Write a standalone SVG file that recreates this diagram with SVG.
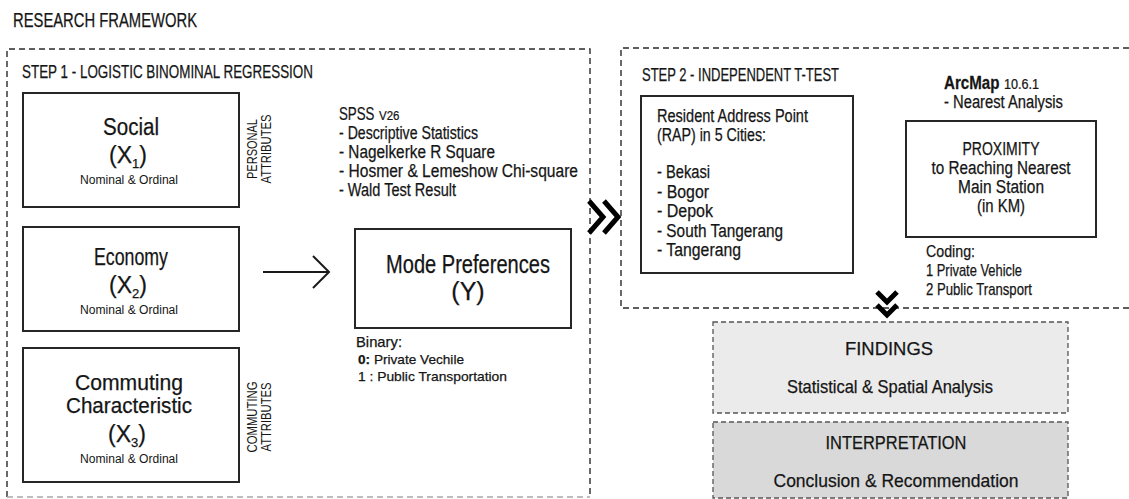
<svg xmlns="http://www.w3.org/2000/svg" width="1129" height="499" viewBox="0 0 1129 499">
  <style>
    text { font-family: "Liberation Sans", Arial, sans-serif; fill: #151515; stroke: #151515; stroke-width: 0.25; }
    .box { fill: #ffffff; stroke: #262626; stroke-width: 2; }
    .frame { fill: none; stroke: #2a2a2a; stroke-width: 1.4; stroke-dasharray: 6 4; }
    .frame-light { fill: none; stroke: #a8a8a8; stroke-width: 1.4; stroke-dasharray: 6 4; }
    .result { stroke: #555555; stroke-width: 1.3; stroke-dasharray: 5 3; }
    .chev { fill: none; stroke: #000000; stroke-width: 5; stroke-linejoin: miter; }
    .big { font-size: 23px; }
    .note { font-size: 12.5px; stroke-width: 0; }
    .side { font-size: 15px; stroke-width: 0; }
    .list { font-size: 18px; }
  </style>

  <!-- page title -->
  <text x="13" y="27" font-size="20" textLength="184" lengthAdjust="spacingAndGlyphs">RESEARCH FRAMEWORK</text>

  <!-- step frames -->
  <g id="step1-frame">
    <path class="frame" d="M7,497 L7,49 L590,49 L590,497"/>
    <path class="frame-light" d="M7,497 L590,497"/>
    <text x="22" y="78" font-size="18" textLength="291" lengthAdjust="spacingAndGlyphs">STEP 1 - LOGISTIC BINOMINAL REGRESSION</text>
  </g>
  <g id="step2-frame">
    <path class="frame" d="M1129,48 L621,48 L621,308 L1129,308"/>
    <text x="642" y="81" font-size="18" textLength="197" lengthAdjust="spacingAndGlyphs">STEP 2 - INDEPENDENT T-TEST</text>
  </g>

  <!-- independent variables -->
  <g id="node-social">
    <rect class="box" x="23" y="93" width="216" height="114"/>
    <text x="131" y="135" class="big" text-anchor="middle" textLength="56" lengthAdjust="spacingAndGlyphs">Social</text>
    <text x="128" y="163" class="big" text-anchor="middle">(X<tspan font-size="13" dy="5">1</tspan><tspan dy="-5">)</tspan></text>
    <text x="129" y="184" class="note" text-anchor="middle" textLength="98" lengthAdjust="spacingAndGlyphs">Nominal &amp; Ordinal</text>
  </g>
  <g id="label-personal">
    <text transform="translate(257,149) rotate(-90)" class="side" text-anchor="middle" textLength="60" lengthAdjust="spacingAndGlyphs">PERSONAL</text>
    <text transform="translate(271,149) rotate(-90)" class="side" text-anchor="middle" textLength="69" lengthAdjust="spacingAndGlyphs">ATTRIBUTES</text>
  </g>

  <g id="node-economy">
    <rect class="box" x="23" y="227" width="216" height="104"/>
    <text x="131" y="265" class="big" text-anchor="middle" textLength="74" lengthAdjust="spacingAndGlyphs">Economy</text>
    <text x="128" y="293" class="big" text-anchor="middle">(X<tspan font-size="13" dy="5">2</tspan><tspan dy="-5">)</tspan></text>
    <text x="129" y="314" class="note" text-anchor="middle" textLength="98" lengthAdjust="spacingAndGlyphs">Nominal &amp; Ordinal</text>
  </g>

  <g id="node-commuting">
    <rect class="box" x="23" y="348" width="216" height="134"/>
    <text x="129" y="390" font-size="21.5" text-anchor="middle" textLength="108" lengthAdjust="spacingAndGlyphs">Commuting</text>
    <text x="129" y="413" font-size="21.5" text-anchor="middle" textLength="126" lengthAdjust="spacingAndGlyphs">Characteristic</text>
    <text x="127" y="442" class="big" text-anchor="middle">(X<tspan font-size="13" dy="5">3</tspan><tspan dy="-5">)</tspan></text>
    <text x="129" y="463" class="note" text-anchor="middle" textLength="98" lengthAdjust="spacingAndGlyphs">Nominal &amp; Ordinal</text>
  </g>
  <g id="label-commuting">
    <text transform="translate(257,417) rotate(-90)" class="side" text-anchor="middle" textLength="71" lengthAdjust="spacingAndGlyphs">COMMUTING</text>
    <text transform="translate(271,417) rotate(-90)" class="side" text-anchor="middle" textLength="69" lengthAdjust="spacingAndGlyphs">ATTRIBUTES</text>
  </g>

  <!-- software notes, step 1 -->
  <g id="note-spss">
    <text transform="translate(339,120) scale(0.7,1)" font-size="19">SPSS</text>
    <text transform="translate(379,120) scale(0.85,1)" font-size="13.5">V26</text>
    <text x="339" y="139" class="list" textLength="139" lengthAdjust="spacingAndGlyphs">- Descriptive Statistics</text>
    <text x="339" y="158" class="list" textLength="156" lengthAdjust="spacingAndGlyphs">- Nagelkerke R Square</text>
    <text x="339" y="177" class="list" textLength="239" lengthAdjust="spacingAndGlyphs">- Hosmer &amp; Lemeshow Chi-square</text>
    <text x="339" y="196" class="list" textLength="117" lengthAdjust="spacingAndGlyphs">- Wald Test Result</text>
  </g>

  <!-- dependent variable -->
  <g id="node-mode">
    <rect class="box" x="355" y="229" width="216" height="99"/>
    <text x="468" y="273" font-size="25" text-anchor="middle" textLength="164" lengthAdjust="spacingAndGlyphs">Mode Preferences</text>
    <text x="468" y="300" font-size="25" text-anchor="middle">(Y)</text>
    <text x="356" y="347" font-size="15" textLength="46" lengthAdjust="spacingAndGlyphs">Binary:</text>
    <text x="358" y="364" font-size="13.5" stroke-width="0" textLength="106" lengthAdjust="spacingAndGlyphs"><tspan font-weight="bold">0:</tspan> Private Vechile</text>
    <text x="358" y="381" font-size="13.5" stroke-width="0" textLength="149" lengthAdjust="spacingAndGlyphs">1 : Public Transportation</text>
  </g>

  <!-- step 2 content -->
  <g id="node-rap">
    <rect class="box" x="641" y="96" width="212" height="177"/>
    <text x="657" y="122" class="list" textLength="151" lengthAdjust="spacingAndGlyphs">Resident Address Point</text>
    <text x="657" y="141" class="list" textLength="109" lengthAdjust="spacingAndGlyphs">(RAP) in 5 Cities:</text>
    <text x="657" y="178" class="list" textLength="53" lengthAdjust="spacingAndGlyphs">- Bekasi</text>
    <text x="657" y="198" class="list" textLength="52" lengthAdjust="spacingAndGlyphs">- Bogor</text>
    <text x="657" y="217" class="list" textLength="56" lengthAdjust="spacingAndGlyphs">- Depok</text>
    <text x="657" y="237" class="list" textLength="126" lengthAdjust="spacingAndGlyphs">- South Tangerang</text>
    <text x="657" y="256" class="list" textLength="84" lengthAdjust="spacingAndGlyphs">- Tangerang</text>
  </g>

  <g id="note-arcmap">
    <text transform="translate(944,89) scale(0.84,1)" font-size="18" font-weight="bold">ArcMap</text>
    <text transform="translate(1004,89) scale(0.9,1)" font-size="14">10.6.1</text>
    <text x="944" y="108" class="list" textLength="119" lengthAdjust="spacingAndGlyphs">- Nearest Analysis</text>
  </g>

  <g id="node-proximity">
    <rect class="box" x="906" y="121" width="190" height="116"/>
    <text x="1001" y="155" class="list" text-anchor="middle" textLength="77" lengthAdjust="spacingAndGlyphs">PROXIMITY</text>
    <text x="1001" y="174" class="list" text-anchor="middle" textLength="139" lengthAdjust="spacingAndGlyphs">to Reaching Nearest</text>
    <text x="1001" y="193" class="list" text-anchor="middle" textLength="86" lengthAdjust="spacingAndGlyphs">Main Station</text>
    <text x="1001" y="212" class="list" text-anchor="middle" textLength="48" lengthAdjust="spacingAndGlyphs">(in KM)</text>
    <text x="926" y="257" font-size="17" textLength="49" lengthAdjust="spacingAndGlyphs">Coding:</text>
    <text x="926" y="276" font-size="17" textLength="96" lengthAdjust="spacingAndGlyphs">1 Private Vehicle</text>
    <text x="926" y="295" font-size="17" textLength="106" lengthAdjust="spacingAndGlyphs">2 Public Transport</text>
  </g>

  <!-- outcome boxes -->
  <g id="node-findings">
    <rect class="result" x="713" y="322" width="355" height="91" fill="#ebebeb"/>
    <text x="889" y="355" font-size="19" text-anchor="middle" textLength="88" lengthAdjust="spacingAndGlyphs">FINDINGS</text>
    <text x="890" y="393" font-size="19" text-anchor="middle" textLength="206" lengthAdjust="spacingAndGlyphs">Statistical &amp; Spatial Analysis</text>
  </g>
  <g id="node-interpretation">
    <rect class="result" x="713" y="422" width="355" height="76" fill="#d9d9d9"/>
    <text x="896" y="449" font-size="19" text-anchor="middle" textLength="141" lengthAdjust="spacingAndGlyphs">INTERPRETATION</text>
    <text x="896" y="487" font-size="19" text-anchor="middle" textLength="245" lengthAdjust="spacingAndGlyphs">Conclusion &amp; Recommendation</text>
  </g>

  <!-- connectors -->
  <g id="connectors">
    <path d="M263,272 L329,272 M313,256 L329,272 L313,288" fill="none" stroke="#1a1a1a" stroke-width="2"/>
    <path class="chev" d="M589,201 L603,217 L589,233 M604,201 L618,217 L604,233"/>
    <path class="chev" d="M877,292 L887,302 L897,292 M877,305 L887,315 L897,305" stroke-width="4.5"/>
  </g>
</svg>
